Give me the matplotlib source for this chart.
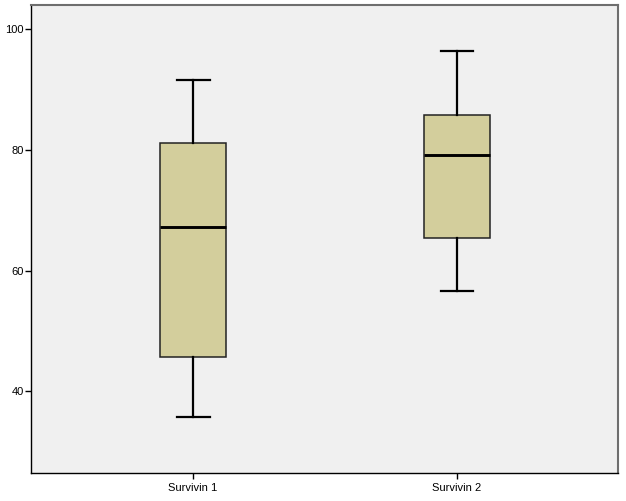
import matplotlib
matplotlib.use("Agg")
import matplotlib.pyplot as plt

plt.rcParams['font.family'] = ['Liberation Sans', 'DejaVu Sans']

categories = ["Survivin 1", "Survivin 2"]
whislo = [35.7, 56.6]
q1 = [45.6, 65.4]
med = [67.2, 79.1]
q3 = [81.1, 85.7]
whishi = [91.5, 96.4]
yticks = [40, 60, 80, 100]

fig = plt.figure(figsize=(6.26, 5.01), dpi=100)
ax = fig.add_axes([31/626, 28/501, (618-31)/626, (473-5)/501])
ax.set_facecolor('#F0F0F0')

stats = []
for i, c in enumerate(categories):
    stats.append(dict(label=c, whislo=whislo[i], q1=q1[i], med=med[i], q3=q3[i], whishi=whishi[i], fliers=[]))

ax.bxp(stats, positions=[1, 2], widths=0.25, capwidths=0.125, patch_artist=True,
       showfliers=False,
       boxprops=dict(facecolor='#D3CE9C', edgecolor='#222222', linewidth=1.1),
       medianprops=dict(color='black', linewidth=2.1),
       whiskerprops=dict(color='black', linewidth=1.6),
       capprops=dict(color='black', linewidth=1.6))

ax.set_xlim(0.386, 2.61)
ax.set_ylim(26.46, 103.98)
ax.set_yticks(yticks)
ax.set_yticklabels([str(t) for t in yticks])
ax.tick_params(axis='both', labelsize=8, length=4, width=1, color='black', pad=1)
ax.tick_params(axis='x', pad=3)
for s in ['left', 'bottom']:
    ax.spines[s].set_color('black')
    ax.spines[s].set_linewidth(1)
for s in ['top', 'right']:
    ax.spines[s].set_color('#6E6E6E')
    ax.spines[s].set_linewidth(1.5)

fig.savefig("out.png", dpi=100, facecolor='white')
